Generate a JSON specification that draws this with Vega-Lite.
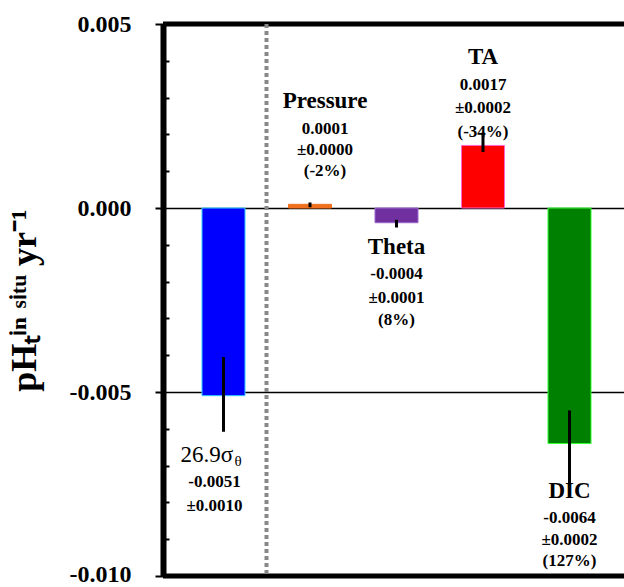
{
  "$schema": "https://vega.github.io/schema/vega-lite/v6.json",
  "autosize": "none",
  "width": 461,
  "height": 552,
  "padding": {"left": 163, "top": 24, "right": 0, "bottom": 11},
  "background": "white",
  "config": {"view": {"stroke": null}, "font": "Liberation Serif"},
  "datasets": {
    "bars": [
      {"component": "26.9σθ", "value": -0.0051, "lo": -0.00608, "hi": -0.00405},
      {"component": "Pressure", "value": 0.0001, "lo": 0.00002, "hi": 0.00015},
      {"component": "Theta", "value": -0.0004, "lo": -0.00053, "hi": -0.00032},
      {"component": "TA", "value": 0.0017, "lo": 0.00152, "hi": 0.00205},
      {"component": "DIC", "value": -0.0064, "lo": -0.00758, "hi": -0.0055}
    ],
    "frame": [{"edge": "top", "y": 0.005}, {"edge": "bottom", "y": -0.01}],
    "labels": [
      {"component": "Pressure", "text": "Pressure", "y": 0.00271, "kind": "title"},
      {"component": "Pressure", "text": "0.0001", "y": 0.00201, "kind": "num"},
      {"component": "Pressure", "text": "±0.0000", "y": 0.00144, "kind": "num"},
      {"component": "Pressure", "text": "(-2%)", "y": 0.00088, "kind": "num"},
      {"component": "Theta", "text": "Theta", "y": -0.00125, "kind": "title"},
      {"component": "Theta", "text": "-0.0004", "y": -0.00193, "kind": "num"},
      {"component": "Theta", "text": "±0.0001", "y": -0.00257, "kind": "num"},
      {"component": "Theta", "text": "(8%)", "y": -0.00319, "kind": "num"},
      {"component": "TA", "text": "TA", "y": 0.00391, "kind": "title"},
      {"component": "TA", "text": "0.0017", "y": 0.00321, "kind": "num"},
      {"component": "TA", "text": "±0.0002", "y": 0.00257, "kind": "num"},
      {"component": "TA", "text": "(-34%)", "y": 0.00194, "kind": "num"},
      {"component": "DIC", "text": "DIC", "y": -0.00789, "kind": "title"},
      {"component": "DIC", "text": "-0.0064", "y": -0.00857, "kind": "num"},
      {"component": "DIC", "text": "±0.0002", "y": -0.00916, "kind": "num"},
      {"component": "DIC", "text": "(127%)", "y": -0.00973, "kind": "num"},
      {"component": "26.9σθ", "text": "26.9σ", "y": -0.00689, "kind": "title"},
      {"component": "26.9σθ", "text": "θ", "y": -0.00689, "kind": "sub"},
      {"component": "26.9σθ", "text": "-0.0051", "y": -0.00757, "kind": "num"},
      {"component": "26.9σθ", "text": "±0.0010", "y": -0.00823, "kind": "num"}
    ]
  },
  "layer": [
    {
      "data": {"name": "bars"},
      "mark": {"type": "bar", "strokeWidth": 1},
      "encoding": {
        "x": {"field": "component", "type": "nominal", "axis": null,
          "scale": {"domain": ["26.9σθ", "Pressure", "Theta", "TA", "DIC"], "paddingInner": 0.5029, "paddingOuter": 0.4162, "align": 0.5417}},
        "y": {
          "field": "value", "type": "quantitative",
          "scale": {"domain": [-0.01, 0.005], "nice": false, "zero": false},
          "axis": {
            "title": "pHₜⁱⁿ ˢⁱᵗᵘ yr⁻¹",
            "titleFont": "Liberation Serif", "titleFontWeight": "bold", "titleFontSize": 36, "titleColor": "black", "titlePadding": 26,
            "values": [0.005, 0.004, 0.003, 0.002, 0.001, 0, -0.001, -0.002, -0.003, -0.004, -0.005, -0.006, -0.007, -0.008, -0.009, -0.01],
            "labelExpr": "abs(round(datum.value*1000)) % 5 == 0 ? (datum.value < -0.0000001 ? '-' : '') + format(abs(datum.value), '.3f') : ''",
            "labelFont": "Liberation Serif", "labelFontWeight": "bold", "labelFontSize": 24, "labelColor": "black", "labelPadding": 24,
            "labelOffset": {"condition": {"test": "datum.value < -0.0095", "value": -2}, "value": 0},
            "domainColor": "black", "domainWidth": 6,
            "tickColor": "black", "tickWidth": 2,
            "tickSize": {"condition": {"test": "abs(round(datum.value*1000)) % 5 == 0", "value": 8}, "value": -6},
            "grid": true, "gridColor": "black", "gridWidth": 1.5,
            "gridOpacity": {"condition": {"test": "abs(round(datum.value*1000)) % 5 == 0", "value": 1}, "value": 0}
          }
        },
        "fill": {
          "field": "component", "type": "nominal", "legend": null,
          "scale": {"domain": ["26.9σθ", "Pressure", "Theta", "TA", "DIC"], "range": ["#0000FF", "#F07020", "#7030A0", "#FF0000", "#008000"]}
        },
        "stroke": {
          "field": "component", "type": "nominal", "legend": null,
          "scale": {"domain": ["26.9σθ", "Pressure", "Theta", "TA", "DIC"], "range": ["#33CCFF", "#F07020", "#9966CC", "#FF66CC", "#33FF33"]}
        }
      }
    },
    {
      "data": {"name": "frame"},
      "mark": {"type": "rule", "color": "black", "strokeWidth": 5},
      "encoding": {"y": {"field": "y", "type": "quantitative", "axis": {
            "title": "pHₜⁱⁿ ˢⁱᵗᵘ yr⁻¹",
            "titleFont": "Liberation Serif", "titleFontWeight": "bold", "titleFontSize": 36, "titleColor": "black", "titlePadding": 26,
            "values": [0.005, 0.004, 0.003, 0.002, 0.001, 0, -0.001, -0.002, -0.003, -0.004, -0.005, -0.006, -0.007, -0.008, -0.009, -0.01],
            "labelExpr": "abs(round(datum.value*1000)) % 5 == 0 ? (datum.value < -0.0000001 ? '-' : '') + format(abs(datum.value), '.3f') : ''",
            "labelFont": "Liberation Serif", "labelFontWeight": "bold", "labelFontSize": 24, "labelColor": "black", "labelPadding": 24,
            "labelOffset": {"condition": {"test": "datum.value < -0.0095", "value": -2}, "value": 0},
            "domainColor": "black", "domainWidth": 6,
            "tickColor": "black", "tickWidth": 2,
            "tickSize": {"condition": {"test": "abs(round(datum.value*1000)) % 5 == 0", "value": 8}, "value": -6},
            "grid": true, "gridColor": "black", "gridWidth": 1.5,
            "gridOpacity": {"condition": {"test": "abs(round(datum.value*1000)) % 5 == 0", "value": 1}, "value": 0}
          }}}
    },
    {
      "data": {"values": [{"component": "26.9σθ"}]},
      "mark": {"type": "rule", "color": "#888888", "strokeWidth": 4, "strokeDash": [4, 3]},
      "encoding": {"x": {"field": "component", "type": "nominal", "bandPosition": 1.5, "axis": null,
          "scale": {"domain": ["26.9σθ", "Pressure", "Theta", "TA", "DIC"], "paddingInner": 0.5029, "paddingOuter": 0.4162, "align": 0.5417}}}
    },
    {
      "data": {"name": "bars"},
      "mark": {"type": "rule", "color": "black", "strokeWidth": 3},
      "encoding": {
        "x": {"field": "component", "type": "nominal", "axis": null,
          "scale": {"domain": ["26.9σθ", "Pressure", "Theta", "TA", "DIC"], "paddingInner": 0.5029, "paddingOuter": 0.4162, "align": 0.5417}},
        "y": {"field": "lo", "type": "quantitative", "axis": {
            "title": "pHₜⁱⁿ ˢⁱᵗᵘ yr⁻¹",
            "titleFont": "Liberation Serif", "titleFontWeight": "bold", "titleFontSize": 36, "titleColor": "black", "titlePadding": 26,
            "values": [0.005, 0.004, 0.003, 0.002, 0.001, 0, -0.001, -0.002, -0.003, -0.004, -0.005, -0.006, -0.007, -0.008, -0.009, -0.01],
            "labelExpr": "abs(round(datum.value*1000)) % 5 == 0 ? (datum.value < -0.0000001 ? '-' : '') + format(abs(datum.value), '.3f') : ''",
            "labelFont": "Liberation Serif", "labelFontWeight": "bold", "labelFontSize": 24, "labelColor": "black", "labelPadding": 24,
            "labelOffset": {"condition": {"test": "datum.value < -0.0095", "value": -2}, "value": 0},
            "domainColor": "black", "domainWidth": 6,
            "tickColor": "black", "tickWidth": 2,
            "tickSize": {"condition": {"test": "abs(round(datum.value*1000)) % 5 == 0", "value": 8}, "value": -6},
            "grid": true, "gridColor": "black", "gridWidth": 1.5,
            "gridOpacity": {"condition": {"test": "abs(round(datum.value*1000)) % 5 == 0", "value": 1}, "value": 0}
          }},
        "y2": {"field": "hi"}
      }
    },
    {
      "data": {"name": "labels"},
      "transform": [{"filter": "datum.component == 'Theta' || datum.component == 'TA' || datum.component == 'DIC'"}],
      "mark": {"type": "text", "font": "Liberation Serif", "fontWeight": "bold", "baseline": "alphabetic", "align": "center", "color": "black"},
      "encoding": {
        "x": {"field": "component", "type": "nominal", "axis": null,
          "scale": {"domain": ["26.9σθ", "Pressure", "Theta", "TA", "DIC"], "paddingInner": 0.5029, "paddingOuter": 0.4162, "align": 0.5417}},
        "y": {"field": "y", "type": "quantitative", "axis": {
            "title": "pHₜⁱⁿ ˢⁱᵗᵘ yr⁻¹",
            "titleFont": "Liberation Serif", "titleFontWeight": "bold", "titleFontSize": 36, "titleColor": "black", "titlePadding": 26,
            "values": [0.005, 0.004, 0.003, 0.002, 0.001, 0, -0.001, -0.002, -0.003, -0.004, -0.005, -0.006, -0.007, -0.008, -0.009, -0.01],
            "labelExpr": "abs(round(datum.value*1000)) % 5 == 0 ? (datum.value < -0.0000001 ? '-' : '') + format(abs(datum.value), '.3f') : ''",
            "labelFont": "Liberation Serif", "labelFontWeight": "bold", "labelFontSize": 24, "labelColor": "black", "labelPadding": 24,
            "labelOffset": {"condition": {"test": "datum.value < -0.0095", "value": -2}, "value": 0},
            "domainColor": "black", "domainWidth": 6,
            "tickColor": "black", "tickWidth": 2,
            "tickSize": {"condition": {"test": "abs(round(datum.value*1000)) % 5 == 0", "value": 8}, "value": -6},
            "grid": true, "gridColor": "black", "gridWidth": 1.5,
            "gridOpacity": {"condition": {"test": "abs(round(datum.value*1000)) % 5 == 0", "value": 1}, "value": 0}
          }},
        "text": {"field": "text"},
        "size": {"field": "kind", "type": "nominal", "legend": null, "scale": {"domain": ["title", "num"], "range": [23, 17]}}
      }
    },
    {
      "data": {"name": "labels"},
      "transform": [{"filter": "datum.component == 'Pressure'"}],
      "mark": {"type": "text", "font": "Liberation Serif", "fontWeight": "bold", "baseline": "alphabetic", "align": "center", "color": "black", "dx": 15},
      "encoding": {
        "x": {"field": "component", "type": "nominal", "axis": null,
          "scale": {"domain": ["26.9σθ", "Pressure", "Theta", "TA", "DIC"], "paddingInner": 0.5029, "paddingOuter": 0.4162, "align": 0.5417}},
        "y": {"field": "y", "type": "quantitative", "axis": {
            "title": "pHₜⁱⁿ ˢⁱᵗᵘ yr⁻¹",
            "titleFont": "Liberation Serif", "titleFontWeight": "bold", "titleFontSize": 36, "titleColor": "black", "titlePadding": 26,
            "values": [0.005, 0.004, 0.003, 0.002, 0.001, 0, -0.001, -0.002, -0.003, -0.004, -0.005, -0.006, -0.007, -0.008, -0.009, -0.01],
            "labelExpr": "abs(round(datum.value*1000)) % 5 == 0 ? (datum.value < -0.0000001 ? '-' : '') + format(abs(datum.value), '.3f') : ''",
            "labelFont": "Liberation Serif", "labelFontWeight": "bold", "labelFontSize": 24, "labelColor": "black", "labelPadding": 24,
            "labelOffset": {"condition": {"test": "datum.value < -0.0095", "value": -2}, "value": 0},
            "domainColor": "black", "domainWidth": 6,
            "tickColor": "black", "tickWidth": 2,
            "tickSize": {"condition": {"test": "abs(round(datum.value*1000)) % 5 == 0", "value": 8}, "value": -6},
            "grid": true, "gridColor": "black", "gridWidth": 1.5,
            "gridOpacity": {"condition": {"test": "abs(round(datum.value*1000)) % 5 == 0", "value": 1}, "value": 0}
          }},
        "text": {"field": "text"},
        "size": {"field": "kind", "type": "nominal", "legend": null, "scale": {"domain": ["title", "num"], "range": [23, 17]}}
      }
    },
    {
      "data": {"name": "labels"},
      "transform": [{"filter": "datum.component == '26.9σθ' && datum.kind == 'num'"}],
      "mark": {"type": "text", "font": "Liberation Serif", "fontWeight": "bold", "fontSize": 17, "baseline": "alphabetic", "align": "center", "color": "black", "dx": -9},
      "encoding": {
        "x": {"field": "component", "type": "nominal", "axis": null,
          "scale": {"domain": ["26.9σθ", "Pressure", "Theta", "TA", "DIC"], "paddingInner": 0.5029, "paddingOuter": 0.4162, "align": 0.5417}},
        "y": {"field": "y", "type": "quantitative", "axis": {
            "title": "pHₜⁱⁿ ˢⁱᵗᵘ yr⁻¹",
            "titleFont": "Liberation Serif", "titleFontWeight": "bold", "titleFontSize": 36, "titleColor": "black", "titlePadding": 26,
            "values": [0.005, 0.004, 0.003, 0.002, 0.001, 0, -0.001, -0.002, -0.003, -0.004, -0.005, -0.006, -0.007, -0.008, -0.009, -0.01],
            "labelExpr": "abs(round(datum.value*1000)) % 5 == 0 ? (datum.value < -0.0000001 ? '-' : '') + format(abs(datum.value), '.3f') : ''",
            "labelFont": "Liberation Serif", "labelFontWeight": "bold", "labelFontSize": 24, "labelColor": "black", "labelPadding": 24,
            "labelOffset": {"condition": {"test": "datum.value < -0.0095", "value": -2}, "value": 0},
            "domainColor": "black", "domainWidth": 6,
            "tickColor": "black", "tickWidth": 2,
            "tickSize": {"condition": {"test": "abs(round(datum.value*1000)) % 5 == 0", "value": 8}, "value": -6},
            "grid": true, "gridColor": "black", "gridWidth": 1.5,
            "gridOpacity": {"condition": {"test": "abs(round(datum.value*1000)) % 5 == 0", "value": 1}, "value": 0}
          }},
        "text": {"field": "text"}
      }
    },
    {
      "data": {"name": "labels"},
      "transform": [{"filter": "datum.component == '26.9σθ' && datum.kind == 'title'"}],
      "mark": {"type": "text", "font": "Liberation Serif", "fontWeight": "normal", "fontSize": 23, "baseline": "alphabetic", "align": "left", "color": "black", "dx": -43},
      "encoding": {
        "x": {"field": "component", "type": "nominal", "axis": null,
          "scale": {"domain": ["26.9σθ", "Pressure", "Theta", "TA", "DIC"], "paddingInner": 0.5029, "paddingOuter": 0.4162, "align": 0.5417}},
        "y": {"field": "y", "type": "quantitative", "axis": {
            "title": "pHₜⁱⁿ ˢⁱᵗᵘ yr⁻¹",
            "titleFont": "Liberation Serif", "titleFontWeight": "bold", "titleFontSize": 36, "titleColor": "black", "titlePadding": 26,
            "values": [0.005, 0.004, 0.003, 0.002, 0.001, 0, -0.001, -0.002, -0.003, -0.004, -0.005, -0.006, -0.007, -0.008, -0.009, -0.01],
            "labelExpr": "abs(round(datum.value*1000)) % 5 == 0 ? (datum.value < -0.0000001 ? '-' : '') + format(abs(datum.value), '.3f') : ''",
            "labelFont": "Liberation Serif", "labelFontWeight": "bold", "labelFontSize": 24, "labelColor": "black", "labelPadding": 24,
            "labelOffset": {"condition": {"test": "datum.value < -0.0095", "value": -2}, "value": 0},
            "domainColor": "black", "domainWidth": 6,
            "tickColor": "black", "tickWidth": 2,
            "tickSize": {"condition": {"test": "abs(round(datum.value*1000)) % 5 == 0", "value": 8}, "value": -6},
            "grid": true, "gridColor": "black", "gridWidth": 1.5,
            "gridOpacity": {"condition": {"test": "abs(round(datum.value*1000)) % 5 == 0", "value": 1}, "value": 0}
          }},
        "text": {"field": "text"}
      }
    },
    {
      "data": {"name": "labels"},
      "transform": [{"filter": "datum.component == '26.9σθ' && datum.kind == 'sub'"}],
      "mark": {"type": "text", "font": "Liberation Serif", "fontWeight": "normal", "fontSize": 15, "baseline": "alphabetic", "align": "left", "color": "black", "dx": 11, "dy": 4},
      "encoding": {
        "x": {"field": "component", "type": "nominal", "axis": null,
          "scale": {"domain": ["26.9σθ", "Pressure", "Theta", "TA", "DIC"], "paddingInner": 0.5029, "paddingOuter": 0.4162, "align": 0.5417}},
        "y": {"field": "y", "type": "quantitative", "axis": {
            "title": "pHₜⁱⁿ ˢⁱᵗᵘ yr⁻¹",
            "titleFont": "Liberation Serif", "titleFontWeight": "bold", "titleFontSize": 36, "titleColor": "black", "titlePadding": 26,
            "values": [0.005, 0.004, 0.003, 0.002, 0.001, 0, -0.001, -0.002, -0.003, -0.004, -0.005, -0.006, -0.007, -0.008, -0.009, -0.01],
            "labelExpr": "abs(round(datum.value*1000)) % 5 == 0 ? (datum.value < -0.0000001 ? '-' : '') + format(abs(datum.value), '.3f') : ''",
            "labelFont": "Liberation Serif", "labelFontWeight": "bold", "labelFontSize": 24, "labelColor": "black", "labelPadding": 24,
            "labelOffset": {"condition": {"test": "datum.value < -0.0095", "value": -2}, "value": 0},
            "domainColor": "black", "domainWidth": 6,
            "tickColor": "black", "tickWidth": 2,
            "tickSize": {"condition": {"test": "abs(round(datum.value*1000)) % 5 == 0", "value": 8}, "value": -6},
            "grid": true, "gridColor": "black", "gridWidth": 1.5,
            "gridOpacity": {"condition": {"test": "abs(round(datum.value*1000)) % 5 == 0", "value": 1}, "value": 0}
          }},
        "text": {"field": "text"}
      }
    }
  ]
}
